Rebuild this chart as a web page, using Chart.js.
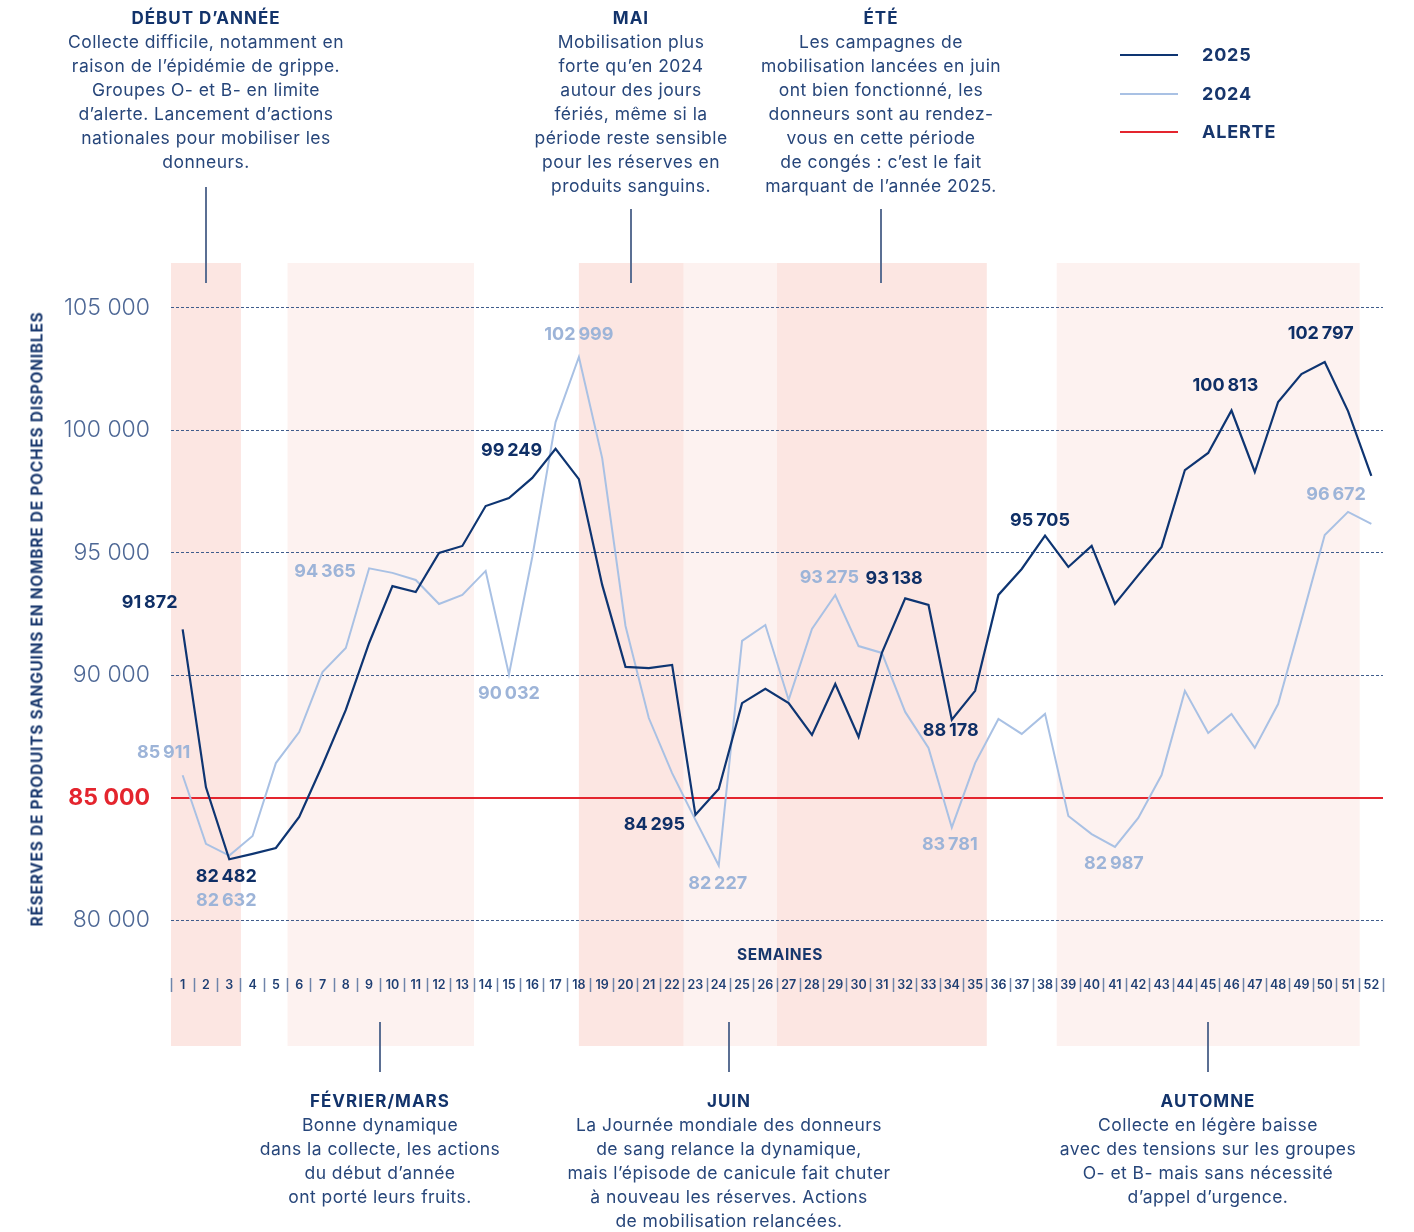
<!DOCTYPE html>
<html lang="fr">
<head>
<meta charset="utf-8">
<script src="https://cdn.jsdelivr.net/npm/chart.js@4.4.1/dist/chart.umd.min.js"></script>
<style>
html,body{margin:0;padding:0;background:#fff;}
#wrap{position:relative;width:1414px;height:1232px;overflow:hidden;font-family:Inter,"Open Sans",sans-serif;}
canvas{position:absolute;left:0;top:0;}
.note{position:absolute;transform:translateX(-50%);white-space:nowrap;text-align:center;color:#27467a;font-size:17.5px;letter-spacing:0.45px;line-height:24px;}
.note b{display:block;color:#12336b;font-weight:700;font-size:17px;letter-spacing:1px;}
.stem{position:absolute;width:2px;background:#5b6f93;}
.lg{position:absolute;left:1120px;width:58px;height:2px;}
.lgt{position:absolute;left:1202px;font-weight:700;font-size:18px;letter-spacing:0.8px;line-height:20px;color:#17366c;}
#ytitle{position:absolute;left:37px;top:619px;transform:translate(-50%,-50%) rotate(-90deg);white-space:nowrap;font-weight:700;font-size:15.5px;letter-spacing:0.75px;color:#1b3a6f;}
#xtitle{position:absolute;left:780px;top:954px;transform:translate(-50%,-50%);font-weight:700;font-size:15.5px;letter-spacing:0.6px;color:#17366c;}
</style>
</head>
<body>
<div id="wrap">
<canvas id="c" width="1414" height="1232"></canvas>

<div class="note" style="left:206px;top:6px"><b>DÉBUT D’ANNÉE</b>Collecte difficile, notamment en<br>raison de l’épidémie de grippe.<br>Groupes O- et B- en limite<br>d’alerte. Lancement d’actions<br>nationales pour mobiliser les<br>donneurs.</div>
<div class="note" style="left:631px;top:6px"><b>MAI</b>Mobilisation plus<br>forte qu’en 2024<br>autour des jours<br>fériés, même si la<br>période reste sensible<br>pour les réserves en<br>produits sanguins.</div>
<div class="note" style="left:881px;top:6px"><b>ÉTÉ</b>Les campagnes de<br>mobilisation lancées en juin<br>ont bien fonctionné, les<br>donneurs sont au rendez-<br>vous en cette période<br>de congés : c’est le fait<br>marquant de l’année 2025.</div>

<div class="note" style="left:380px;top:1089px"><b>FÉVRIER/MARS</b>Bonne dynamique<br>dans la collecte, les actions<br>du début d’année<br>ont porté leurs fruits.</div>
<div class="note" style="left:729px;top:1089px"><b>JUIN</b>La Journée mondiale des donneurs<br>de sang relance la dynamique,<br>mais l’épisode de canicule fait chuter<br>à nouveau les réserves. Actions<br>de mobilisation relancées.</div>
<div class="note" style="left:1208px;top:1089px"><b>AUTOMNE</b>Collecte en légère baisse<br>avec des tensions sur les groupes<br>O- et B- mais sans nécessité<br>d’appel d’urgence.</div>

<div class="stem" style="left:205px;top:187px;height:96px"></div>
<div class="stem" style="left:630px;top:209px;height:74px"></div>
<div class="stem" style="left:880px;top:209px;height:74px"></div>
<div class="stem" style="left:379px;top:1022px;height:50px"></div>
<div class="stem" style="left:728px;top:1022px;height:50px"></div>
<div class="stem" style="left:1207px;top:1022px;height:50px"></div>

<div id="legend"></div>
<div id="ytitle">RÉSERVES DE PRODUITS SANGUINS EN NOMBRE DE POCHES DISPONIBLES</div>
<div id="xtitle">SEMAINES</div>
</div>

<script>
// ---------- DATA ----------
const weeks = [1,2,3,4,5,6,7,8,9,10,11,12,13,14,15,16,17,18,19,20,21,22,23,24,25,26,
  27,28,29,30,31,32,33,34,35,36,37,38,39,40,41,42,43,44,45,46,47,48,49,50,51,52];

const reserves2025 = [
  91872, 85420, 82482, 82700, 82940, 84210, 86330, 88580, 91315, 93640,
  93400, 94990, 95280, 96910, 97240, 98060, 99249, 98010, 93690, 90340,
  90290, 90420, 84295, 85350, 88860, 89440, 88860, 87560, 89640, 87480,
  90910, 93138, 92870, 88178, 89360, 93280, 94340, 95705, 94420, 95280,
  92910, 94090, 95240, 98380, 99080, 100813, 98300, 101160, 102300, 102797,
  100790, 98140];

const reserves2024 = [
  85911, 83110, 82632, 83430, 86410, 87680, 90130, 91110, 94365, 94180,
  93890, 92910, 93280, 94260, 90032, 94830, 100340, 102999, 98870, 92010,
  88250, 86000, 84090, 82227, 91400, 92050, 88990, 91890, 93275, 91190,
  90910, 88500, 87030, 83781, 86410, 88210, 87600, 88420, 84250, 83510,
  82987, 84170, 85920, 89360, 87640, 88420, 87030, 88820, 92250, 95730,
  96672, 96180];

const alertLevel = 85000;
const yTickValues = [80000, 85000, 90000, 95000, 100000, 105000];

// highlighted periods (in weeks) : start, end, tone
const periodStarts = [0.5, 5.5, 18, 22.5, 26.5, 38.5];
const periodEnds   = [3.5, 13.5, 22.5, 26.5, 35.5, 51.5];
const periodTones  = ['strong', 'soft', 'strong', 'soft', 'strong', 'soft'];

// annotated values: series index (0 = 2025, 1 = 2024) and week
const labelSeries = [0,0,0,0,0,0,0,0,0, 1,1,1,1,1,1,1,1,1,1];
const labelWeeks  = [1,3,17,23,32,34,38,46,50, 1,3,9,15,18,24,29,34,41,51];

// ---------- STYLE ----------
const C2025 = '#0e3572', C2024 = '#a9c1e4', CALERT = '#e4252e';
const toneColor = {strong:'#fce6e2', soft:'#fdf2f0'};
const labelOffsets = [[-33,-27],[-3,17],[-44,2],[-41,10],[-11,-20],[-1,11],[-5,-15],[-6,-25],[-4,-28],
  [-19,-23],[-3,45],[-44,3],[0,19],[0,-22],[-1,18],[-6,-17],[-2,17],[-1,17],[-12,-17]];
const labelColors = ['#0f2f66', '#9db4d8'];

// legend
const legendItems = [['2025', C2025, 55], ['2024', C2024, 94], ['ALERTE', CALERT, 132]];
const lg = document.getElementById('legend');
legendItems.forEach(([t, col, y]) => {
  const l = document.createElement('div'); l.className = 'lg';
  l.style.top = (y - 1) + 'px'; l.style.background = col; lg.appendChild(l);
  const s = document.createElement('div'); s.className = 'lgt';
  s.style.top = (y - 10) + 'px'; s.textContent = t; lg.appendChild(s);
});

const fmtValue = v => Math.floor(v / 1000) + '\u2009' + String(v % 1000).padStart(3, '0');

const bandsPlugin = {
  id: 'bands',
  beforeDraw(chart) {
    const {ctx, chartArea, scales: {x}} = chart;
    ctx.save();
    periodStarts.forEach((s, i) => {
      const x1 = x.getPixelForValue(s - 1), x2 = x.getPixelForValue(periodEnds[i] - 1);
      ctx.fillStyle = toneColor[periodTones[i]];
      ctx.fillRect(x1, chartArea.top, x2 - x1, chartArea.bottom - chartArea.top);
    });
    ctx.restore();
  }
};

const labelsPlugin = {
  id: 'valueLabels',
  afterDatasetsDraw(chart) {
    const ctx = chart.ctx;
    ctx.save();
    ctx.font = '700 18px Inter, "Open Sans", sans-serif';
    ctx.textAlign = 'center';
    ctx.textBaseline = 'middle';
    labelWeeks.forEach((w, i) => {
      const s = labelSeries[i];
      const pt = chart.getDatasetMeta(s).data[w - 1];
      const v = chart.data.datasets[s].data[w - 1];
      ctx.fillStyle = labelColors[s];
      ctx.fillText(fmtValue(v), pt.x + labelOffsets[i][0], pt.y + labelOffsets[i][1]);
    });
    ctx.restore();
  }
};

new Chart(document.getElementById('c'), {
  type: 'line',
  data: {
    labels: weeks,
    datasets: [
      {label: '2025', data: reserves2025, borderColor: C2025, borderWidth: 2.2, pointRadius: 0, tension: 0},
      {label: '2024', data: reserves2024, borderColor: C2024, borderWidth: 2, pointRadius: 0, tension: 0}
    ]
  },
  options: {
    responsive: false,
    devicePixelRatio: 1,
    animation: false,
    layout: {padding: {top: 263, right: 31, bottom: 186, left: 0}},
    plugins: {legend: {display: false}, tooltip: {enabled: false}},
    scales: {
      x: {
        type: 'category',
        offset: true,
        position: {y: 77631},
        border: {display: false},
        grid: {display: true, drawOnChartArea: false, drawTicks: true, offset: true,
               tickLength: 14, tickWidth: 1.5, tickColor: '#6f84aa', color: '#6f84aa'},
        ticks: {autoSkip: false, maxRotation: 0, minRotation: 0, padding: -14.5,
                color: '#1f3f73', font: {family: 'Inter, "Open Sans", sans-serif', size: 12.5, weight: '600'}}
      },
      y: {
        min: 74853, max: 106838,
        afterBuildTicks: sc => { sc.ticks = yTickValues.map(v => ({value: v})); },
        afterFit: sc => { sc.width = 171; },
        border: {display: false, dash: ctx => (ctx.tick && ctx.tick.value === alertLevel) ? [] : [3, 2]},
        grid: {
          drawTicks: false,
          color: ctx => (ctx.tick && ctx.tick.value === alertLevel) ? CALERT : '#3f5c8c',
          lineWidth: ctx => (ctx.tick && ctx.tick.value === alertLevel) ? 2 : 1
        },
        ticks: {
          padding: 21,
          callback: v => Math.round(v / 1000) + ' 000',
          color: ctx => ctx.tick.value === alertLevel ? CALERT : '#4d6795',
          font: ctx => ctx.tick && ctx.tick.value === alertLevel
            ? {family: 'Inter, "Open Sans", sans-serif', size: 23, weight: '700'}
            : {family: 'Inter, "Open Sans", sans-serif', size: 23, weight: '300'}
        }
      }
    }
  },
  plugins: [bandsPlugin, labelsPlugin]
});
</script>
</body>
</html>
